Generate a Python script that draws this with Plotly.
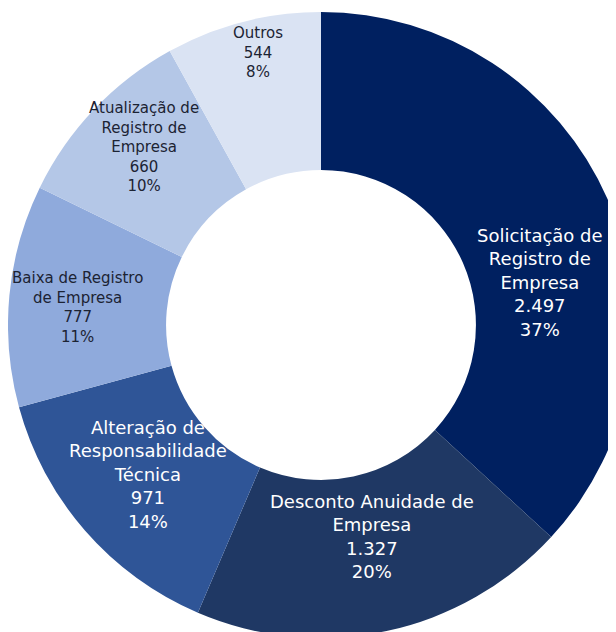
import math
import plotly.graph_objects as go

categories = [
    "Solicitação de Registro de Empresa",
    "Desconto Anuidade de Empresa",
    "Alteração de Responsabilidade Técnica",
    "Baixa de Registro de Empresa",
    "Atualização de Registro de Empresa",
    "Outros",
]
display_labels = [
    "Solicitação de<br>Registro de<br>Empresa",
    "Desconto Anuidade de<br>Empresa",
    "Alteração de<br>Responsabilidade<br>Técnica",
    "Baixa de Registro<br>de Empresa",
    "Atualização de<br>Registro de<br>Empresa",
    "Outros",
]
values = [2497, 1327, 971, 777, 660, 544]

# styles
colors = ["#002060", "#1F3864", "#2F5597", "#8FAADC", "#B4C7E7", "#DAE3F3"]
text_colors = ["white", "white", "white", "#1c2333", "#1c2333", "#1c2333"]
text_sizes = [18, 18, 18, 15, 15, 15]
label_radius_factor = [0.953, 0.93, 0.98, 1.045, 1.073, 1.197]
label_angle_offset = [12.8, -1.4, 0.2, -1.3, 1.7, 1.5]

HOLE = 0.495
W, H = 626, 640
M = dict(l=0, r=0, t=4, b=10)

fig = go.Figure(go.Pie(
    labels=categories,
    values=values,
    textinfo="none",
    marker=dict(colors=colors, line=dict(width=0)),
    hole=HOLE,
    sort=False,
    direction="clockwise",
    rotation=0,
    showlegend=False,
    domain=dict(x=[0, 1], y=[0, 1]),
))

# label placement derived from the slice angles
plot_w = W - M["l"] - M["r"]
plot_h = H - M["t"] - M["b"]
r_out = min(plot_w, plot_h) / 2
r_mid = (r_out + r_out * HOLE) / 2
total = sum(values)
cum = 0
for i, v in enumerate(values):
    mid_frac = (cum + v / 2) / total
    cum += v
    theta = math.radians(mid_frac * 360 + label_angle_offset[i])
    rr = r_mid * label_radius_factor[i]
    pct = round(100 * v / total)
    num = f"{v:,}".replace(",", ".")
    fig.add_annotation(
        x=0.5 + rr * math.sin(theta) / plot_w,
        y=0.5 + rr * math.cos(theta) / plot_h,
        xref="paper", yref="paper",
        text=f"{display_labels[i]}<br>{num}<br>{pct}%",
        showarrow=False,
        align="center",
        xanchor="center", yanchor="middle",
        font=dict(family="DejaVu Sans, Arial, sans-serif", size=text_sizes[i], color=text_colors[i]),
    )

fig.update_layout(
    width=W,
    height=H,
    margin=M,
    paper_bgcolor="white",
    plot_bgcolor="white",
)

fig.write_html("out.html")
